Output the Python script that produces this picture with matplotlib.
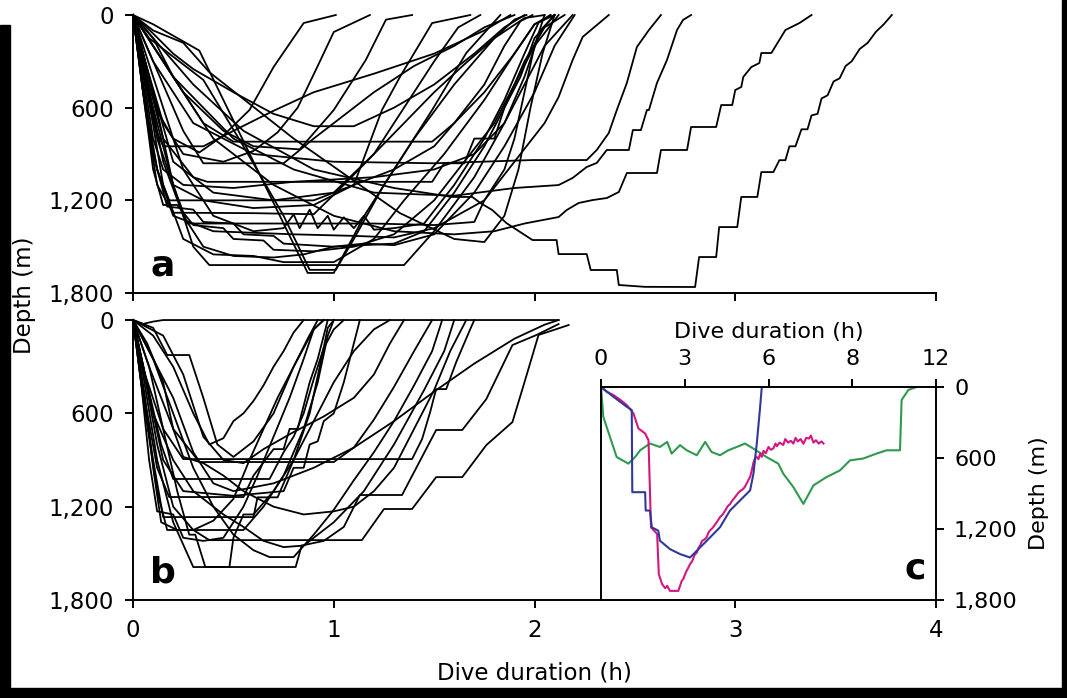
import matplotlib.pyplot as plt
from matplotlib.patches import Rectangle

plt.rcParams['font.family'] = 'DejaVu Sans'

# dive profiles, (time h, depth m)
dives_a = [
    [(0, 0), (0.05, 250), (0.12, 620), (0.2, 800), (0.33, 890), (0.45, 780), (0.58, 615), (0.70, 337), (0.85, 52), (1.01, 0)],
    [(0, 0), (0.06, 300), (0.15, 700), (0.25, 900), (0.45, 950), (0.6, 880), (0.72, 760), (0.82, 600), (0.92, 330), (1.0, 110), (1.18, 0)],
    [(0, 0), (0.1, 200), (0.25, 500), (0.45, 750), (0.6, 850), (0.83, 870), (1.0, 615), (1.16, 290), (1.26, 30), (1.39, 0)],
    [(0, 0), (0.1, 60), (0.33, 230), (0.6, 950), (0.87, 1670), (1.0, 1670), (1.16, 1283), (1.33, 940), (1.49, 615), (1.66, 246), (1.83, 0)],
    [(0, 0), (0.08, 150), (0.35, 420), (0.55, 850), (0.75, 1300), (0.88, 1650), (1.01, 1650), (1.1, 1450), (1.25, 1100), (1.4, 800), (1.6, 450), (1.8, 150), (1.95, 20), (2.05, 0)],
    [(0, 0), (0.1, 500), (0.2, 1100), (0.3, 1500), (0.38, 1619), (1.35, 1619), (1.5, 1400), (1.7, 1050), (1.85, 700), (1.95, 400), (2.03, 100), (2.1, 0)],
    [(0, 0), (0.1, 150), (0.2, 400), (0.35, 700), (0.5, 820), (1.49, 820), (1.6, 700), (1.75, 500), (1.9, 250), (2.0, 60), (2.08, 0)],
    [(0, 0), (0.05, 300), (0.15, 800), (0.3, 1050), (0.37, 1080), (1.49, 1080), (1.55, 960), (1.65, 960), (1.7, 800), (1.8, 800), (1.85, 600), (1.93, 400), (2.0, 150), (2.1, 0)],
    [(0, 0), (0.08, 500), (0.2, 1100), (0.27, 1350), (1.2, 1350), (1.5, 1360), (1.7, 1340), (1.75, 1200), (1.85, 1000), (1.9, 800), (1.95, 500), (2.0, 200), (2.05, 0)],
    [(0, 0), (0.1, 400), (0.25, 1000), (0.4, 1300), (0.6, 1400), (0.75, 1380), (0.8, 1290), (0.83, 1380), (0.88, 1260), (0.92, 1380), (0.97, 1300), (1.0, 1390), (1.05, 1310), (1.1, 1380), (1.15, 1300), (1.2, 1390), (1.3, 1380), (1.45, 1350), (1.6, 1100), (1.75, 800), (1.85, 550), (1.95, 250), (2.02, 50), (2.08, 0)],
    [(0, 0), (0.06, 400), (0.15, 1100), (0.25, 1450), (0.4, 1550), (0.6, 1560), (0.75, 1600), (1.0, 1600), (1.2, 1450), (1.35, 1200), (1.55, 900), (1.75, 550), (1.9, 250), (2.0, 60), (2.1, 0)],
    [(0, 0), (0.05, 500), (0.1, 900), (0.17, 1240), (0.3, 1260), (0.35, 1340), (0.5, 1350), (0.55, 1420), (0.7, 1430), (0.75, 1480), (1.0, 1500), (1.3, 1480), (1.45, 1400), (1.6, 1150), (1.75, 850), (1.85, 600), (1.95, 300), (2.05, 80), (2.15, 0)],
    [(0, 0), (0.04, 400), (0.1, 1000), (0.15, 1230), (0.22, 1230), (0.3, 1360), (0.45, 1380), (0.5, 1450), (0.65, 1460), (0.7, 1520), (0.9, 1530), (1.1, 1500), (1.3, 1420), (1.5, 1200), (1.65, 950), (1.8, 700), (1.9, 450), (2.0, 200), (2.12, 0)],
    [(0, 0), (0.06, 600), (0.12, 1100), (0.2, 1280), (0.6, 1283), (0.9, 1290), (1.05, 1100), (1.2, 900), (1.35, 700), (1.5, 500), (1.65, 320), (1.8, 150), (1.9, 30), (1.96, 0)],
    [(0, 0), (0.08, 700), (0.12, 1000), (0.18, 1200), (0.9, 1200), (1.0, 1150), (1.3, 1000), (1.5, 850), (1.6, 700), (1.75, 450), (1.85, 200), (1.93, 40), (1.99, 0)],
    [(0, 0), (0.1, 300), (0.25, 750), (0.35, 960), (0.75, 960), (0.9, 800), (1.05, 650), (1.2, 500), (1.4, 330), (1.6, 200), (1.75, 80), (1.9, 0)],
    [(0, 0), (0.05, 350), (0.1, 700), (0.15, 850), (0.35, 850), (0.5, 750), (0.7, 620), (0.9, 500), (1.2, 380), (1.5, 250), (1.75, 100), (1.88, 0)],
    [(0, 0), (0.1, 150), (0.3, 450), (0.55, 750), (0.9, 1000), (1.3, 1120), (1.59, 1178), (1.69, 1178), (1.73, 1217), (1.79, 1263), (1.86, 1347), (1.99, 1457), (2.11, 1457), (2.12, 1548), (2.26, 1548), (2.28, 1651), (2.41, 1651), (2.42, 1748), (2.55, 1760), (2.80, 1761), (2.82, 1567), (2.905, 1567), (2.92, 1373), (3.01, 1373), (3.03, 1178), (3.11, 1178), (3.13, 1017), (3.19, 1017), (3.22, 940), (3.25, 940), (3.27, 850), (3.30, 850), (3.33, 740), (3.36, 740), (3.38, 650), (3.41, 640), (3.43, 540), (3.46, 520), (3.49, 430), (3.52, 410), (3.55, 330), (3.58, 300), (3.62, 220), (3.66, 180), (3.70, 110), (3.74, 60), (3.78, 0)],
    [(0, 0), (0.15, 300), (0.4, 800), (0.7, 1100), (1.0, 1300), (1.3, 1400), (1.6, 1420), (1.8, 1400), (1.95, 1350), (2.12, 1308), (2.16, 1263), (2.22, 1217), (2.29, 1198), (2.36, 1185), (2.42, 1146), (2.46, 1023), (2.61, 1023), (2.63, 874), (2.76, 874), (2.78, 725), (2.905, 725), (2.93, 583), (2.985, 583), (3.0, 486), (3.03, 466), (3.04, 401), (3.08, 337), (3.12, 311), (3.13, 246), (3.18, 246), (3.25, 97), (3.32, 52), (3.38, 0)],
    [(0, 0), (0.2, 400), (0.5, 800), (0.8, 1000), (1.2, 1150), (1.6, 1170), (1.9, 1120), (2.12, 1101), (2.19, 1055), (2.26, 984), (2.31, 958), (2.36, 874), (2.47, 874), (2.49, 745), (2.53, 745), (2.56, 615), (2.57, 615), (2.61, 440), (2.66, 291), (2.71, 97), (2.74, 32), (2.78, 0)],
    [(0, 0), (0.1, 300), (0.3, 700), (0.6, 900), (1.0, 950), (1.5, 960), (1.99, 939), (2.26, 939), (2.31, 874), (2.37, 764), (2.41, 615), (2.46, 440), (2.51, 207), (2.57, 97), (2.63, 0)],
    [(0, 0), (0.05, 500), (0.12, 1000), (0.2, 1300), (0.4, 1400), (0.8, 1420), (1.1, 1430), (1.3, 1440), (1.5, 1380), (1.75, 1200), (1.9, 950), (2.05, 700), (2.12, 531), (2.19, 291), (2.24, 142), (2.37, 0)],
    [(0, 0), (0.05, 300), (0.12, 800), (0.2, 1100), (0.35, 1200), (0.6, 1250), (0.9, 1230), (1.1, 1100), (1.24, 615), (1.33, 400), (1.49, 52), (1.68, 0)],
    [(0, 0), (0.08, 400), (0.2, 950), (0.4, 1150), (0.7, 1200), (1.0, 1150), (1.2, 900), (1.35, 600), (1.5, 300), (1.62, 80), (1.73, 0)],
    [(0, 0), (0.04, 300), (0.1, 800), (0.15, 1000), (0.25, 1100), (0.5, 1120), (0.8, 1080), (1.2, 1050), (1.5, 1000), (1.7, 900), (1.85, 700), (1.95, 450), (2.05, 200), (2.19, 0)],
    [(0, 0), (0.1, 100), (0.25, 180), (0.38, 370), (0.8, 800), (1.33, 1283), (1.6, 1450), (1.75, 1470), (1.85, 1300), (1.92, 1000), (1.98, 600), (2.04, 250), (2.1, 0)],
    [(0, 0), (0.1, 120), (0.2, 250), (0.3, 350), (0.5, 500), (0.7, 640), (0.9, 720), (1.1, 720), (1.3, 600), (1.5, 450), (1.7, 250), (1.85, 80), (1.95, 0)],
    [(0, 0), (0.06, 350), (0.15, 950), (0.25, 1300), (0.35, 1500), (0.5, 1560), (0.7, 1570), (0.85, 1550), (1.0, 1500), (1.15, 1480), (1.3, 1490), (1.5, 1420), (1.7, 1150), (1.85, 850), (2.0, 500), (2.1, 200), (2.2, 0)],
]

dives_b = [
    [(0, 0), (0.05, 300), (0.12, 800), (0.2, 1200), (0.3, 1350), (0.38, 1415), (1.14, 1415), (1.25, 1215), (1.39, 1215), (1.51, 1010), (1.64, 1010), (1.76, 804), (1.89, 656), (1.95, 400), (2.02, 96), (2.11, 58), (2.17, 32)],
    [(0, 0), (0.05, 350), (0.12, 900), (0.2, 1300), (0.3, 1588), (0.81, 1588), (0.84, 1450), (0.95, 1420), (1.05, 1330), (1.13, 1125), (1.34, 1125), (1.51, 707), (1.64, 707), (1.76, 508), (1.89, 161), (2.01, 96), (2.12, 26)],
    [(0, 0), (0.08, 300), (0.15, 700), (0.22, 1100), (0.28, 1380), (0.31, 1380), (0.36, 1588), (0.48, 1588), (0.5, 1400), (0.55, 1250), (0.6, 1250), (0.7, 1100), (0.8, 900), (0.9, 650), (1.0, 400), (1.1, 200), (1.2, 60), (1.28, 0)],
    [(0, 0), (0.1, 250), (0.2, 600), (0.3, 950), (0.4, 1200), (0.5, 1380), (0.6, 1480), (0.68, 1524), (0.8, 1524), (0.9, 1380), (1.0, 1220), (1.1, 1030), (1.2, 850), (1.3, 650), (1.4, 420), (1.49, 200), (1.54, 0)],
    [(0, 0), (0.05, 500), (0.12, 1100), (0.17, 1350), (0.55, 1350), (0.65, 1200), (0.75, 1000), (0.85, 700), (0.92, 400), (0.97, 100), (1.0, 0)],
    [(0, 0), (0.04, 400), (0.1, 900), (0.15, 1267), (0.6, 1267), (0.62, 1140), (0.72, 1140), (0.8, 900), (0.88, 600), (0.93, 300), (0.97, 50), (1.0, 0)],
    [(0, 0), (0.06, 350), (0.14, 800), (0.2, 1022), (0.68, 1022), (0.75, 850), (0.8, 750), (0.85, 600), (0.9, 380), (0.95, 180), (1.0, 60), (1.05, 0)],
    [(0, 0), (0.08, 300), (0.2, 700), (0.33, 913), (1.0, 913), (1.1, 820), (1.2, 640), (1.3, 430), (1.4, 200), (1.49, 0)],
    [(0, 0), (0.06, 350), (0.15, 700), (0.25, 894), (1.39, 894), (1.44, 765), (1.48, 592), (1.51, 444), (1.56, 444), (1.61, 270), (1.68, 58), (1.7, 0)],
    [(0, 0), (0.05, 450), (0.12, 950), (0.18, 1138), (0.55, 1138), (0.6, 1000), (0.7, 830), (0.75, 830), (0.78, 700), (0.82, 700), (0.85, 550), (0.88, 400), (0.92, 250), (0.95, 100), (0.97, 0)],
    [(0, 0), (0.1, 100), (0.2, 300), (0.3, 600), (0.38, 800), (0.45, 760), (0.5, 650), (0.55, 600), (0.6, 520), (0.65, 420), (0.7, 300), (0.75, 200), (0.8, 80), (0.85, 0)],
    [(0, 0), (0.1, 50), (0.17, 225), (0.28, 225), (0.35, 500), (0.42, 800), (0.5, 880), (0.6, 780), (0.7, 600), (0.75, 450), (0.8, 300), (0.85, 180), (0.9, 60), (0.95, 0)],
    [(0, 0), (0.15, 100), (0.25, 350), (0.35, 750), (0.45, 900), (0.55, 920), (0.65, 830), (0.8, 720), (0.95, 620), (1.1, 500), (1.2, 350), (1.28, 150), (1.35, 0)],
    [(0, 0), (0.05, 300), (0.1, 600), (0.2, 900), (0.3, 1100), (0.45, 1250), (0.55, 1330), (0.65, 1420), (0.75, 1460), (0.85, 1450), (1.0, 1300), (1.15, 1100), (1.3, 800), (1.45, 450), (1.55, 200), (1.6, 0)],
    [(0, 0), (0.08, 200), (0.2, 500), (0.3, 850), (0.4, 1050), (0.5, 1100), (0.7, 1050), (0.9, 950), (1.1, 820), (1.3, 650), (1.5, 460), (1.7, 280), (1.9, 120), (2.05, 30), (2.12, 0)],
    [(0, 0), (0.05, 25), (0.1, 10), (0.15, 0), (2.12, 0)],
    [(0, 0), (0.04, 400), (0.08, 900), (0.12, 1230), (0.2, 1250), (0.25, 1400), (0.35, 1420), (0.45, 1400), (0.5, 1300), (0.55, 1200), (0.62, 1000), (0.7, 750), (0.78, 500), (0.85, 250), (0.9, 60), (0.95, 0)],
    [(0, 0), (0.06, 500), (0.1, 950), (0.14, 1300), (0.22, 1350), (0.3, 1350), (0.4, 1290), (0.5, 1150), (0.58, 900), (0.65, 700), (0.72, 500), (0.8, 300), (0.87, 120), (0.92, 0)],
    [(0, 0), (0.07, 150), (0.15, 400), (0.2, 700), (0.25, 880), (0.35, 920), (0.45, 1000), (0.55, 1100), (0.7, 1200), (0.85, 1250), (1.0, 1230), (1.1, 1200), (1.2, 1100), (1.3, 950), (1.4, 700), (1.5, 450), (1.58, 200), (1.66, 0)],
    [(0, 0), (0.05, 300), (0.15, 900), (0.25, 1100), (0.5, 1130), (0.75, 1100), (0.8, 950), (0.85, 950), (0.88, 800), (0.92, 780), (0.95, 650), (1.0, 600), (1.05, 400), (1.1, 150), (1.13, 0)],
]

# panel c, three long dives (inset time axis 0-12)
c_blue_t = [0, 0.44, 0.92, 1.10, 1.12, 1.58, 1.60, 1.75, 1.82, 2.05, 2.11, 2.47, 2.83, 3.19, 3.43, 3.79, 4.26, 4.62, 4.98, 5.34, 5.46, 5.58, 5.69, 5.76]
c_blue_d = [0, 82, 167, 195, 889, 889, 1044, 1044, 1186, 1214, 1299, 1370, 1412, 1441, 1384, 1299, 1186, 1044, 959, 874, 733, 478, 195, 0]
c_mag_t = [0, 0.2, 0.44, 0.7, 0.92, 1.05, 1.16, 1.34, 1.45, 1.58, 1.70, 1.79, 2.01, 2.07, 2.19, 2.3, 2.37, 2.47,
           2.77, 2.89, 2.95, 3.05, 3.12, 3.19, 3.27, 3.35, 3.43, 3.5, 3.55, 3.62, 3.7, 3.78, 3.85, 3.91, 4.0, 4.1,
           4.18, 4.26, 4.35, 4.45, 4.53, 4.62, 4.7, 4.8, 4.9, 4.98, 5.07, 5.15, 5.25, 5.34, 5.4, 5.46, 5.52, 5.58,
           5.64, 5.7, 5.76, 5.82, 5.9, 6.0, 6.08, 6.17, 6.25, 6.3, 6.4, 6.53, 6.6, 6.7, 6.8, 6.89, 6.97, 7.05,
           7.15, 7.25, 7.35, 7.45, 7.52, 7.61, 7.7, 7.8, 7.9, 7.97]
c_mag_d = [0, 40, 68, 110, 153, 190, 223, 351, 370, 393, 450, 1186, 1242, 1582, 1667, 1700, 1681, 1723,
           1723, 1639, 1620, 1560, 1530, 1497, 1470, 1420, 1400, 1356, 1340, 1300, 1290, 1271, 1230, 1210, 1190, 1157,
           1130, 1100, 1080, 1044, 1010, 990, 960, 931, 900, 880, 866, 846, 800, 760, 705, 640, 600, 592,
           610, 563, 590, 540, 560, 507, 530, 520, 478, 500, 470, 490, 440, 470, 455, 478, 430, 460,
           440, 480, 430, 436, 410, 470, 450, 478, 460, 478]
c_green_t = [0, 0.08, 0.44, 0.56, 0.98, 1.22, 1.40, 1.75, 2.11, 2.37, 2.53, 2.83, 3.07, 3.43, 3.73, 3.96, 4.26, 4.56, 4.86, 5.16, 5.46, 5.93, 6.35, 6.53, 6.89, 7.25, 7.61, 8.08, 8.56, 8.92, 9.39, 9.87, 10.23, 10.71, 10.77, 11.01, 11.31]
c_green_d = [0, 252, 507, 592, 648, 592, 535, 478, 507, 464, 563, 492, 535, 577, 464, 549, 577, 535, 507, 478, 521, 592, 648, 733, 846, 988, 832, 761, 705, 620, 605, 563, 535, 535, 110, 25, 0]

depth_ticks = [0, 600, 1200, 1800]
depth_labels = ['0', '600', '1,200', '1,800']
time_ticks = [0, 1, 2, 3, 4]
c_top_ticks = [0, 3, 6, 9, 12]
c_top_labels = ['0', '3', '6', '8', '12']

fig = plt.figure(figsize=(10.67, 6.98), dpi=100)
ax_a = fig.add_axes([0.1247, 0.5802, 0.7525, 0.3983])
ax_b = fig.add_axes([0.1247, 0.1404, 0.7525, 0.4011])
ax_c = fig.add_axes([0.5633, 0.1404, 0.3139, 0.3052])

for ax, dives in [(ax_a, dives_a), (ax_b, dives_b)]:
    for dv in dives:
        ax.plot([p[0] for p in dv], [p[1] for p in dv], color='black', lw=1.3, clip_on=False)
    ax.set_xlim(0, 4)
    ax.set_ylim(1800, 0)
    ax.spines['top'].set_visible(False)
    ax.spines['right'].set_visible(False)
    ax.spines['left'].set_linewidth(1.4)
    ax.spines['bottom'].set_linewidth(1.4)
    ax.set_yticks(depth_ticks)
    ax.set_yticklabels(depth_labels)
    ax.set_xticks(time_ticks)
    ax.tick_params(direction='out', length=6, width=1.4, labelsize=16.5, pad=8)

ax_a.tick_params(axis='x', labelbottom=False)
ax_b.set_xticklabels([str(t) for t in time_ticks])
ax_b.set_xlabel('Dive duration (h)', fontsize=16.5, labelpad=14)

ax_a.text(0.15, 1625, 'a', fontsize=26, fontweight='bold', ha='center', va='center')
ax_b.text(0.15, 1620, 'b', fontsize=26, fontweight='bold', ha='center', va='center')

ax_c.plot(c_green_t, c_green_d, color='#2f9a4e', lw=1.5)
ax_c.plot(c_mag_t, c_mag_d, color='#d4167f', lw=1.5)
ax_c.plot(c_blue_t, c_blue_d, color='#30389a', lw=1.5)
ax_c.set_xlim(0, 12)
ax_c.set_ylim(1800, 0)
for s in ax_c.spines.values():
    s.set_linewidth(1.4)
ax_c.xaxis.tick_top()
ax_c.xaxis.set_label_position('top')
ax_c.set_xticks(c_top_ticks)
ax_c.set_xticklabels(c_top_labels)
ax_c.yaxis.tick_right()
ax_c.yaxis.set_label_position('right')
ax_c.set_yticks(depth_ticks)
ax_c.set_yticklabels(depth_labels)
ax_c.tick_params(direction='out', length=6, width=1.4, labelsize=16, pad=7)
ax_c.set_xlabel('Dive duration (h)', fontsize=16, labelpad=8)
ax_c.set_ylabel('Depth (m)', fontsize=16, labelpad=8)
ax_c.text(11.25, 1530, 'c', fontsize=26, fontweight='bold', ha='center', va='center')

fig.text(25 / 1067, 1 - 295 / 698, 'Depth (m)', rotation=90, fontsize=16.5, ha='center', va='center')

# black frame of the scanned figure
fig.patches.append(Rectangle((0, 0), 10 / 1067, 1 - 25 / 698, transform=fig.transFigure, color='black', zorder=10))
fig.patches.append(Rectangle((0, 0), 1, 10 / 698, transform=fig.transFigure, color='black', zorder=10))
fig.patches.append(Rectangle((1062 / 1067, 0), 5 / 1067, 1, transform=fig.transFigure, color='black', zorder=10))

fig.savefig('out.png', dpi=100)
